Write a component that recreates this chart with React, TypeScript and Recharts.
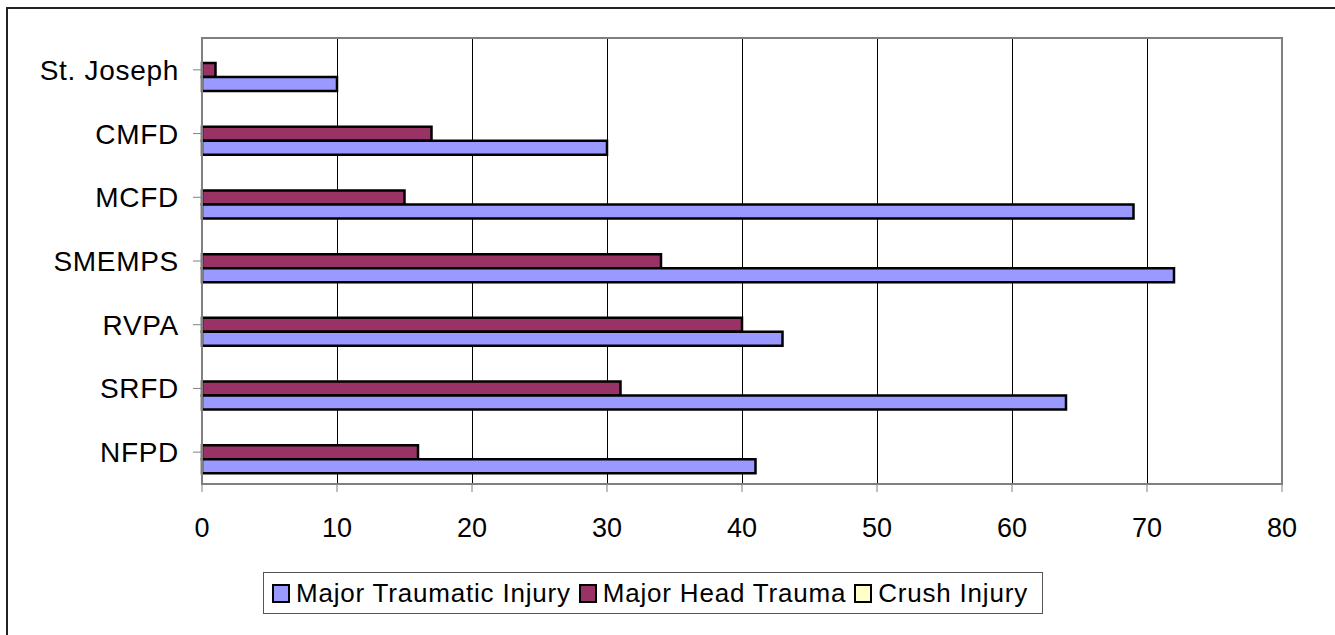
import React from "react";
import {
  BarChart,
  Bar,
  XAxis,
  YAxis,
  CartesianGrid,
  ReferenceArea,
} from "recharts";

// top-to-bottom order as shown
const agencies = ["St. Joseph", "CMFD", "MCFD", "SMEMPS", "RVPA", "SRFD", "NFPD"];
const majorTraumatic = [10, 30, 69, 72, 43, 64, 41];
const majorHead = [1, 17, 15, 34, 40, 31, 16];
const crush = [0, 0, 0, 0, 0, 0, 0];
const xTicks = [0, 10, 20, 30, 40, 50, 60, 70, 80];

const SERIES = [
  { key: "traumatic", name: "Major Traumatic Injury", color: "#9999FF" },
  { key: "head", name: "Major Head Trauma", color: "#993366" },
  { key: "crush", name: "Crush Injury", color: "#FFFFCC" },
];

const data = agencies.map((name, i) => ({
  name,
  traumatic: majorTraumatic[i],
  head: majorHead[i],
  crush: crush[i],
}));

const FONT = "'Liberation Sans', Arial, sans-serif";

export default function App() {
  return (
    <div
      style={{
        position: "absolute",
        left: 0,
        top: 0,
        width: 1335,
        height: 635,
        overflow: "hidden",
        background: "#fff",
        fontFamily: FONT,
      }}
    >
      {/* chart area frame (only top/left visible in the crop) */}
      <div
        style={{
          position: "absolute",
          left: 6,
          top: 7,
          width: 1400,
          height: 700,
          borderLeft: "2px solid #222",
          borderTop: "2px solid #222",
        }}
      />
      <div style={{ position: "absolute", left: 0, top: 0 }}>
        <BarChart
          width={1335}
          height={635}
          data={data}
          layout="vertical"
          margin={{ top: 38, right: 53, left: 0, bottom: 111 }}
          barSize={14}
          barGap={0}
        >
          <CartesianGrid
            horizontal={false}
            stroke="#000"
            strokeWidth={1}
            shapeRendering="crispEdges"
          />
          <ReferenceArea x1={0} x2={80} fill="none" stroke="#808080" strokeWidth={2} />
          <XAxis
            type="number"
            domain={[0, 80]}
            ticks={xTicks}
            height={40}
            tickSize={8}
            tickMargin={26}
            axisLine={{ stroke: "#808080", strokeWidth: 2 }}
            tickLine={{ stroke: "#808080", strokeWidth: 1 }}
            tick={{ fontSize: 27, fill: "#000", fontFamily: FONT }}
          />
          <YAxis
            type="category"
            dataKey="name"
            width={202}
            tickSize={9}
            tickMargin={14}
            axisLine={{ stroke: "#808080", strokeWidth: 2 }}
            tickLine={{ stroke: "#808080", strokeWidth: 1 }}
            tick={{ fontSize: 28, fill: "#000", fontFamily: FONT, letterSpacing: 0.7 }}
          />
          {/* bars stack top-down: crush, head, traumatic */}
          {[...SERIES].reverse().map((s) => (
            <Bar
              key={s.key}
              dataKey={s.key}
              name={s.name}
              fill={s.color}
              stroke="#000"
              strokeWidth={2.5}
              isAnimationActive={false}
            />
          ))}
        </BarChart>
      </div>
      {/* legend */}
      <div
        style={{
          position: "absolute",
          left: 263,
          top: 572,
          width: 780,
          height: 42,
          boxSizing: "border-box",
          border: "1px solid #555",
          display: "flex",
          alignItems: "center",
          paddingLeft: 8,
          gap: 8,
          fontSize: 26,
          letterSpacing: 0.8,
          color: "#000",
          whiteSpace: "nowrap",
        }}
      >
        {SERIES.map((s) => (
          <div key={s.key} style={{ display: "flex", alignItems: "center" }}>
            <span
              style={{
                display: "inline-block",
                width: 18,
                height: 19,
                boxSizing: "border-box",
                border: "2px solid #000",
                background: s.color,
                marginRight: 6,
              }}
            />
            <span>{s.name}</span>
          </div>
        ))}
      </div>
    </div>
  );
}
